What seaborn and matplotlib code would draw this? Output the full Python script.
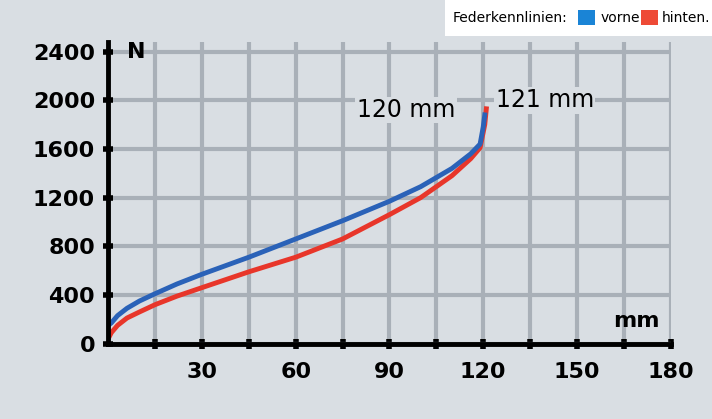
import numpy as np
import pandas as pd
import seaborn as sns
import matplotlib.pyplot as plt
from matplotlib.patches import Rectangle

# spring curves (mm, N)
vorne_mm = [0, 1, 3, 6, 10, 15, 22, 30, 45, 60, 75, 90, 100, 110, 116, 119, 120, 120.5]
vorne_n = [150, 170, 230, 290, 350, 410, 490, 570, 710, 860, 1010, 1170, 1290, 1440, 1560, 1640, 1780, 1880]
hinten_mm = [0, 1, 3, 6, 10, 15, 22, 30, 45, 60, 75, 90, 100, 110, 116, 119, 120.5, 121]
hinten_n = [40, 90, 150, 210, 260, 320, 390, 460, 590, 710, 860, 1060, 1200, 1380, 1520, 1610, 1800, 1930]

xticks = [15, 30, 45, 60, 75, 90, 105, 120, 135, 150, 165, 180]
xlabels = ['', '30', '', '60', '', '90', '', '120', '', '150', '', '180']
yticks = [0, 400, 800, 1200, 1600, 2000, 2400]

bg = '#d9dee3'
grid = '#a9b0b8'
font = 'DejaVu Sans'

df = pd.concat([
    pd.DataFrame({'mm': hinten_mm, 'N': hinten_n, 'achse': 'hinten'}),
    pd.DataFrame({'mm': vorne_mm, 'N': vorne_n, 'achse': 'vorne'}),
])

fig = plt.figure(figsize=(7.12, 4.19), dpi=100, facecolor=bg)
ax = fig.add_axes([0.152, 0.18, 0.79, 0.72])
ax.set_facecolor(bg)
sns.lineplot(data=df, x='mm', y='N', hue='achse', sort=False, legend=False,
             palette={'vorne': '#2a62b8', 'hinten': '#e8362a'}, linewidth=3.5, ax=ax)

ax.set_xlim(0, 178)
ax.set_ylim(0, 2480)
ax.set_xticks(xticks)
ax.set_xticklabels(xlabels, fontsize=16, fontweight='bold', family=font)
ax.set_yticks(yticks)
ax.set_yticklabels([str(v) for v in yticks], fontsize=16, fontweight='bold', family=font)
ax.tick_params(axis='x', length=7, width=4, direction='inout', pad=10)
ax.tick_params(axis='y', length=7, width=4, direction='inout', pad=6)
ax.grid(True, color=grid, linewidth=3, zorder=0)
ax.set_axisbelow(True)
for s in ['top', 'right']:
    ax.spines[s].set_visible(False)
for s in ['left', 'bottom']:
    ax.spines[s].set_linewidth(3.5)
ax.set_xlabel('')
ax.set_ylabel('')

ax.text(6, 2400, 'N', fontsize=16, fontweight='bold', family=font, va='center')
ax.text(169, 140, 'mm', fontsize=16, fontweight='bold', family=font, ha='center')
ax.text(111, 1920, '120 mm', fontsize=17, family=font, ha='right', va='center',
        bbox=dict(facecolor=bg, edgecolor='none', pad=1))
ax.text(124, 2000, '121 mm', fontsize=17, family=font, ha='left', va='center',
        bbox=dict(facecolor=bg, edgecolor='none', pad=1))

# legend box
fig.patches.append(Rectangle((0.625, 0.915), 0.375, 0.085, transform=fig.transFigure,
                             facecolor='white', edgecolor='none'))
fig.text(0.636, 0.957, 'Federkennlinien:', fontsize=10, family=font, va='center')
fig.patches.append(Rectangle((0.812, 0.94), 0.024, 0.035, transform=fig.transFigure,
                             facecolor='#1a84d6', edgecolor='none'))
fig.text(0.843, 0.957, 'vorne', fontsize=10, family=font, va='center')
fig.patches.append(Rectangle((0.9, 0.94), 0.024, 0.035, transform=fig.transFigure,
                             facecolor='#ee4a36', edgecolor='none'))
fig.text(0.93, 0.957, 'hinten.', fontsize=10, family=font, va='center')

fig.savefig('out.png', dpi=100, facecolor=bg)
